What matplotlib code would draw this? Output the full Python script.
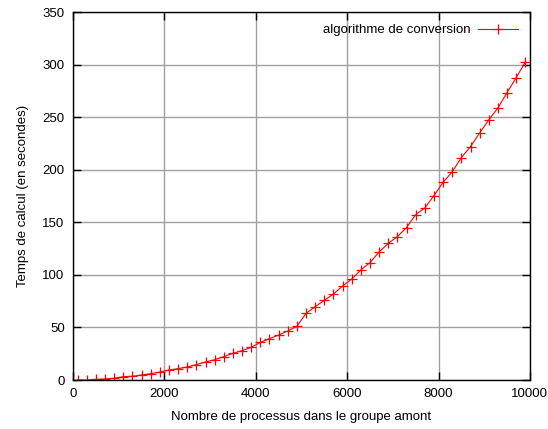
import numpy as np
import matplotlib.pyplot as plt

plt.rcParams['font.family'] = ['Liberation Sans', 'DejaVu Sans']

# nombre de processus dans le groupe amont
processus = [100, 300, 500, 700, 900, 1100, 1300, 1500, 1700, 1900,
             2100, 2300, 2500, 2700, 2900, 3100, 3300, 3500, 3700, 3900,
             4100, 4300, 4500, 4700, 4900, 5100, 5300, 5500, 5700, 5900,
             6100, 6300, 6500, 6700, 6900, 7100, 7300, 7500, 7700, 7900,
             8100, 8300, 8500, 8700, 8900, 9100, 9300, 9500, 9700, 9900]

# temps de calcul (s)
temps = [0, 0, 0.6, 1.0, 1.6, 3.2, 3.5, 4.8, 6.0, 7.6,
         9.5, 10.8, 12.4, 14.6, 17.1, 19.3, 22.2, 25.4, 27.9, 31.1,
         35.8, 39.3, 42.8, 46.6, 51.0, 63.4, 69.7, 75.8, 81.8, 89.4,
         96.0, 104.7, 111.6, 121.8, 130.0, 136.4, 145.0, 157.3, 163.6, 175.4,
         188.0, 198.0, 211.5, 222.0, 235.0, 247.4, 258.8, 273.4, 287.6, 302.5]

xticks = [0, 2000, 4000, 6000, 8000, 10000]
yticks = [0, 50, 100, 150, 200, 250, 300, 350]

fig = plt.figure(figsize=(5.48, 4.29), dpi=100)
ax = fig.add_axes([0.1332, 0.1142, 0.8338, 0.8578])

ax.plot(processus, temps, color='#ff0000', lw=0.8, marker='+', ms=6.5, mew=0.9,
        label='algorithme de conversion')

ax.set_xlim(0, 10000)
ax.set_ylim(0, 350)
ax.set_xticks(xticks)
ax.set_yticks(yticks)
ax.grid(True, color='#a0a0a0', lw=1)
ax.set_axisbelow(True)
ax.tick_params(direction='in', length=6, width=1, top=True, right=True,
               labelsize=9.5, pad=6)
for s in ax.spines.values():
    s.set_linewidth(1)

ax.set_xlabel('Nombre de processus dans le groupe amont', fontsize=9.5, labelpad=8)
ax.set_ylabel('Temps de calcul (en secondes)', fontsize=9.5, labelpad=10)

leg = ax.legend(loc='upper right', frameon=False, fontsize=9.5, markerfirst=False,
                handlelength=3.0, handletextpad=0.6, borderaxespad=0.5)

fig.savefig('out.png', dpi=100)
